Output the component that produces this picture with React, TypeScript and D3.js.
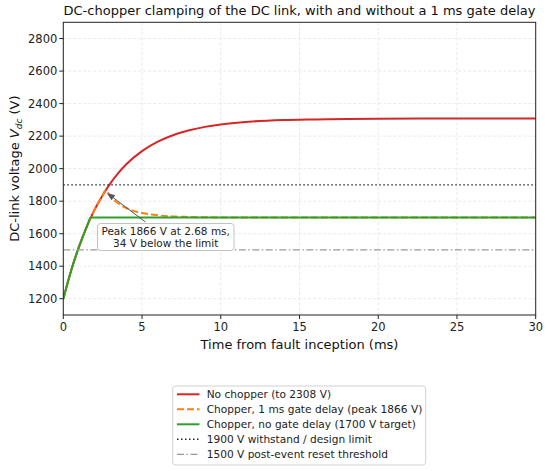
import React from "react";
import * as d3 from "d3";

// Time (ms) and voltage (V) samples
const redT = [0, 0.5, 1, 1.5, 2, 2.5, 3, 3.5, 4, 5, 6, 7, 8, 9, 10, 12, 14, 16, 18, 20, 25, 30];
const redV = [1200, 1374, 1521, 1645, 1750, 1837, 1911, 1974, 2027, 2108, 2166, 2207, 2236, 2257, 2272, 2290, 2299, 2303, 2306, 2307, 2308, 2308];

const orangeT = [0, 0.5, 1, 1.5, 2, 2.5, 2.68, 3, 3.5, 4, 4.5, 5, 6, 7, 8, 9, 10, 15, 20, 30];
const orangeV = [1200, 1374, 1521, 1645, 1750, 1837, 1866, 1827, 1786, 1758, 1739, 1727, 1713, 1706, 1703, 1701, 1700, 1700, 1700, 1700];

const greenT = [0, 0.5, 1, 1.5, 1.75, 5, 10, 20, 30];
const greenV = [1200, 1374, 1521, 1645, 1700, 1700, 1700, 1700, 1700];

const xTicks = [0, 5, 10, 15, 20, 25, 30];
const yTicks = [1200, 1400, 1600, 1800, 2000, 2200, 2400, 2600, 2800];

const limitV = 1900;
const resetV = 1500;
const peakT = 2.68;
const peakV = 1866;

const legendLabels = [
  "No chopper (to 2308 V)",
  "Chopper, 1 ms gate delay (peak 1866 V)",
  "Chopper, no gate delay (1700 V target)",
  "1900 V withstand / design limit",
  "1500 V post-event reset threshold",
];

const FONT = "DejaVu Sans, sans-serif";

export default function App() {
  const W = 550, H = 471;
  const left = 63.3, right = 535.7, top = 22.3, bottom = 315;
  const x = d3.scaleLinear().domain([0, 30]).range([left, right]);
  const y = d3.scaleLinear().domain([1100, 2900]).range([bottom, top]);

  const line = d3
    .line<[number, number]>()
    .x((d) => x(d[0]))
    .y((d) => y(d[1]))
    .curve(d3.curveMonotoneX);

  const red = line(redT.map((t, i) => [t, redV[i]]) as [number, number][]) || "";
  const orange = line(orangeT.map((t, i) => [t, orangeV[i]]) as [number, number][]) || "";
  const green = line(greenT.map((t, i) => [t, greenV[i]]) as [number, number][]) || "";

  const legendStyles = [
    { stroke: "#d62728", dash: undefined, w: 2 },
    { stroke: "#ff7f0e", dash: "7,3", w: 2 },
    { stroke: "#2ca02c", dash: undefined, w: 2 },
    { stroke: "#222", dash: "1.5,2.5", w: 1.4 },
    { stroke: "#999", dash: "7,2.5,1.5,2.5", w: 1.3 },
  ];

  const tipX = x(peakT) + 1.5;
  const tipY = y(peakV) + 2.5;
  const startX = 145.5;
  const startY = 222;
  const ang = Math.atan2(tipY - startY, tipX - startX);
  const hl = 8, hw = 3;
  const bx = tipX - hl * Math.cos(ang), by = tipY - hl * Math.sin(ang);
  const head = `M${tipX},${tipY} L${bx + hw * Math.sin(ang)},${by - hw * Math.cos(ang)} L${bx - hw * Math.sin(ang)},${by + hw * Math.cos(ang)} Z`;

  return (
    <svg width={W} height={H} style={{ display: "block", position: "absolute", left: 0, top: 0 }} fontFamily={FONT}>
      <rect width={W} height={H} fill="#fff" />
      <defs>
        <clipPath id="plot">
          <rect x={left} y={top} width={right - left} height={bottom - top} />
        </clipPath>
      </defs>
      {/* grid */}
      {xTicks.map((t) => (
        <line key={"gx" + t} x1={x(t)} x2={x(t)} y1={top} y2={bottom} stroke="#e3e3e3" strokeWidth={0.8} strokeDasharray="3,2" />
      ))}
      {yTicks.map((t) => (
        <line key={"gy" + t} x1={left} x2={right} y1={y(t)} y2={y(t)} stroke="#e3e3e3" strokeWidth={0.8} strokeDasharray="3,2" />
      ))}
      <g clipPath="url(#plot)">
        <path d={red} fill="none" stroke="#d62728" strokeWidth={2} />
        <path d={orange} fill="none" stroke="#ff7f0e" strokeWidth={2} strokeDasharray="7,3" />
        <path d={green} fill="none" stroke="#2ca02c" strokeWidth={2} />
        <line x1={left} x2={right} y1={y(limitV)} y2={y(limitV)} stroke="#222" strokeWidth={1.4} strokeDasharray="1.5,2.5" />
        <line x1={left} x2={right} y1={y(resetV)} y2={y(resetV)} stroke="#999" strokeWidth={1.3} strokeDasharray="7,2.5,1.5,2.5" />
      </g>
      {/* annotation */}
      <rect x={97.5} y={223.5} width={136.5} height={27} rx={3} fill="#fff" stroke="#bbb" strokeWidth={0.9} />
      <text x={165.7} y={235} textAnchor="middle" fontSize={10.5} fill="#222">Peak 1866 V at 2.68 ms,</text>
      <text x={165.7} y={246.5} textAnchor="middle" fontSize={10.5} fill="#222">34 V below the limit</text>
      <line x1={startX} y1={startY} x2={bx} y2={by} stroke="#555" strokeWidth={1} />
      <path d={head} fill="#555" />
      {/* axes frame */}
      <rect x={left} y={top} width={right - left} height={bottom - top} fill="none" stroke="#222" strokeWidth={1} />
      {xTicks.map((t) => (
        <g key={"tx" + t}>
          <line x1={x(t)} x2={x(t)} y1={bottom} y2={bottom + 4} stroke="#222" />
          <text x={x(t)} y={bottom + 16} textAnchor="middle" fontSize={11.5} fill="#222">{t}</text>
        </g>
      ))}
      {yTicks.map((t) => (
        <g key={"ty" + t}>
          <line x1={left - 4} x2={left} y1={y(t)} y2={y(t)} stroke="#222" />
          <text x={left - 6} y={y(t) + 4} textAnchor="end" fontSize={11.5} fill="#222">{t}</text>
        </g>
      ))}
      <text x={(left + right) / 2} y={349} textAnchor="middle" fontSize={13} fill="#111">Time from fault inception (ms)</text>
      <text transform={`translate(18.5,${(top + bottom) / 2}) rotate(-90)`} textAnchor="middle" fontSize={13} fill="#111">
        DC-link voltage <tspan fontStyle="italic">V</tspan>
        <tspan fontStyle="italic" fontSize={9} dy={3}>dc</tspan>
        <tspan dy={-3}> (V)</tspan>
      </text>
      <text x={(left + right) / 2} y={15} textAnchor="middle" fontSize={13} fill="#111">
        DC-chopper clamping of the DC link, with and without a 1 ms gate delay
      </text>
      {/* legend */}
      <rect x={172.7} y={386} width={253} height={79} rx={3} fill="#fff" stroke="#ccc" strokeWidth={0.9} />
      {legendLabels.map((l, i) => {
        const ly = 394.3 + i * 15;
        const s = legendStyles[i];
        return (
          <g key={l}>
            <line x1={177} x2={199.5} y1={ly} y2={ly} stroke={s.stroke} strokeWidth={s.w} strokeDasharray={s.dash} />
            <text x={206.7} y={ly + 3.8} fontSize={10.6} fill="#222">{l}</text>
          </g>
        );
      })}
    </svg>
  );
}
